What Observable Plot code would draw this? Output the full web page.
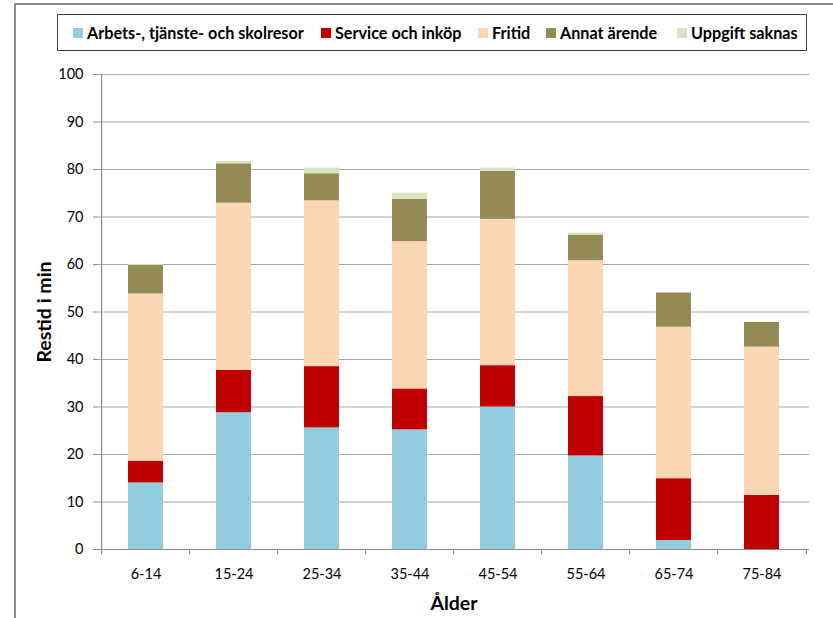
<!DOCTYPE html>
<html>
<head>
<meta charset="utf-8">
<script src="https://cdn.jsdelivr.net/npm/d3@7"></script>
<script src="https://cdn.jsdelivr.net/npm/@observablehq/plot@0.6"></script>
<style>
  html, body { margin: 0; padding: 0; background: #fff; }
  body { width: 833px; height: 618px; position: relative; overflow: hidden; font-family: Lato, "Open Sans", sans-serif; }
  #frame { position: absolute; left: 14px; top: 3px; width: 900px; height: 700px; border-left: 2px solid #8c8c8c; border-top: 2px solid #8c8c8c; }
  #chart { position: absolute; left: 0; top: 0; }
  #legend { position: absolute; left: 57px; top: 14px; width: 748px; height: 35px; border: 1.5px solid #3c3c3c; background: #fff; }
  .item { position: absolute; top: 0; height: 35px; display: flex; align-items: center; font-weight: bold; font-size: 16.2px; color: #000; white-space: nowrap; }
  .sw { width: 10px; height: 10px; margin-right: 4px; }
  g[aria-label="y-axis label"] text, g[aria-label="x-axis label"] text { font-weight: bold; font-size: 19.5px; fill: #000; }
</style>
</head>
<body>
<div id="frame"></div>
<div id="chart"></div>
<div id="legend"></div>
<script>
const ages = ["6-14", "15-24", "25-34", "35-44", "45-54", "55-64", "65-74", "75-84"];
const purposes = ["Arbets-, tjänste- och skolresor", "Service och inköp", "Fritid", "Annat ärende", "Uppgift saknas"];
const colors = ["#93CDDD", "#C00000", "#FCD5B5", "#948A54", "#D7E4BD"];
const arbete  = [14.0, 28.8, 25.6, 25.2, 30.0, 19.7, 1.9, 0.0];
const service = [4.6, 8.9, 12.9, 8.6, 8.7, 12.5, 13.0, 11.4];
const fritid  = [35.2, 35.2, 34.9, 31.0, 30.8, 28.6, 31.9, 31.2];
const annat   = [6.0, 8.3, 5.7, 8.9, 10.1, 5.4, 7.2, 5.2];
const saknas  = [0.2, 0.5, 1.2, 1.3, 0.7, 0.4, 0.0, 0.0];
const yTicks = [0, 10, 20, 30, 40, 50, 60, 70, 80, 90, 100];

const series = [arbete, service, fritid, annat, saknas];
const data = [];
ages.forEach((a, i) => purposes.forEach((p, j) => data.push({age: a, purpose: p, value: series[j][i]})));

const W = 833, H = 618, mL = 98, mR = 24;
const step = (W - mL - mR) / ages.length;

const chart = Plot.plot({
  width: W,
  height: H,
  marginTop: 74,
  marginBottom: 69,
  marginLeft: mL,
  marginRight: mR,
  style: { fontFamily: "Lato, 'Open Sans', sans-serif", fontSize: "14.5px", color: "#000", background: "transparent" },
  x: { domain: ages, paddingInner: 0.606, paddingOuter: 0.303, label: null },
  y: { domain: [0, 100], label: null },
  color: { domain: purposes, range: colors },
  marks: [
    Plot.gridY(yTicks.filter(d => d > 0), { stroke: "#a6a6a6", strokeOpacity: 1, strokeWidth: 1.2 }),
    Plot.barY(data, { x: "age", y: "value", fill: "purpose", order: purposes }),
    Plot.ruleY([0], { stroke: "#8c8c8c", strokeWidth: 1.2 }),
    Plot.ruleX([ages[0]], { x: d => d, dx: -step / 2, y1: -1.1, y2: 100, stroke: "#8c8c8c", strokeWidth: 1.2 }),
    Plot.ruleX(ages.slice(1), { x: d => d, dx: -step / 2, y1: 0, y2: -1.1, stroke: "#8c8c8c", strokeWidth: 1.2 }),
    Plot.ruleX([ages[ages.length - 1]], { x: d => d, dx: step / 2, y1: 0, y2: -1.1, stroke: "#8c8c8c", strokeWidth: 1.2 }),
    Plot.axisY({ ticks: yTicks, tickSize: 5, tickPadding: 10, stroke: "#8c8c8c", label: "Restid i min", labelAnchor: "center", labelArrow: "none", labelOffset: 61 }),
    Plot.axisX({ tickSize: 0, tickPadding: 19, label: "Ålder", labelAnchor: "center", labelArrow: "none", labelOffset: 60 })
  ]
});
document.getElementById("chart").appendChild(chart);

const legendTextX = [86, 334, 491, 559, 690];
const legend = document.getElementById("legend");
purposes.forEach((p, i) => {
  const it = document.createElement("div");
  it.className = "item";
  it.style.left = (legendTextX[i] - 14 - 57) + "px";
  const sw = document.createElement("span");
  sw.className = "sw";
  sw.style.background = colors[i];
  it.appendChild(sw);
  it.appendChild(document.createTextNode(p));
  legend.appendChild(it);
});
</script>
</body>
</html>
